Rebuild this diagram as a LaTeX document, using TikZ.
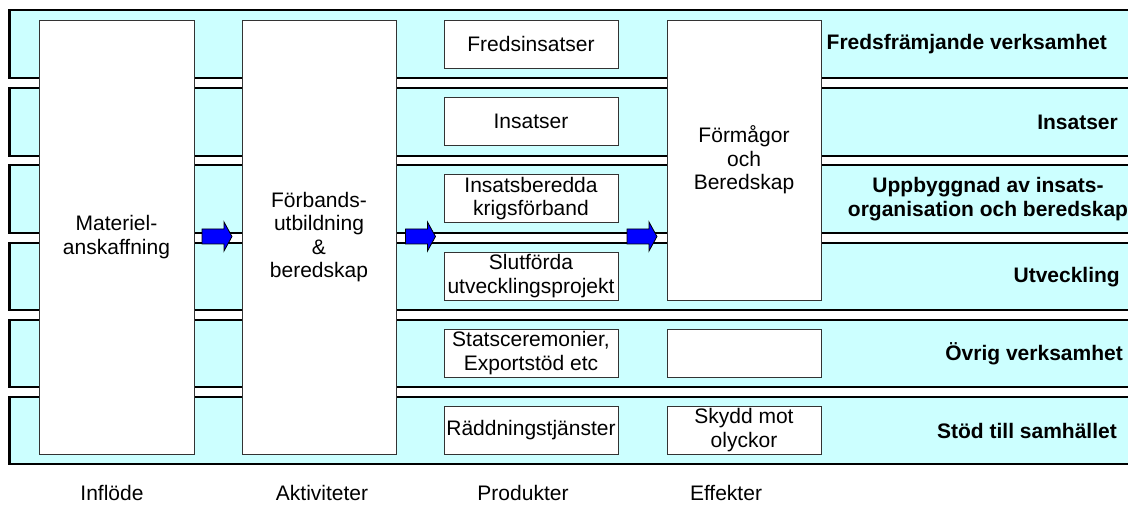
\documentclass[tikz,border=0pt]{standalone}
\usepackage{fontspec}
\setmainfont{Liberation Sans}
\definecolor{bandcyan}{RGB}{204,255,255}
\definecolor{arrowblue}{RGB}{0,0,255}
\begin{document}
\begin{tikzpicture}[x=1pt,y=-1pt,
  band/.style={draw=black,line width=2.5pt,fill=bandcyan},
  box/.style={draw=black!80,line width=0.9pt,fill=white,inner sep=0pt,align=center,
    font=\fontsize{21}{23.5}\selectfont},
  prod/.style={box,minimum width=174pt,minimum height=48pt},
  eff/.style={box,minimum width=154pt,minimum height=48pt},
  lbl/.style={font=\fontsize{21}{23.5}\selectfont\bfseries,inner sep=0pt,align=center},
  caption/.style={font=\fontsize{21}{23.5}\selectfont,inner sep=0pt},
  blockarrow/.style={draw=black,line width=0.8pt,fill=arrowblue,line join=miter}
]
\useasboundingbox (0,0) rectangle (1128,505);
\clip (0,0) rectangle (1128,505);
% bands
\foreach \t/\b in {10/78,88/156,165/233,243/310,320/387,397/464}{
  \draw[band] (9.5,\t) rectangle (1145,\b);
}
% big boxes
\node[box,minimum width=155pt,minimum height=434pt] (mat) at (116.5,237) {Materiel-\\anskaffning};
\node[box,minimum width=154pt,minimum height=434pt] (forb) at (319,237) {Förbands-\\utbildning\\\&\\beredskap};
\node[box,minimum width=154pt,minimum height=280pt] (form) at (744,160) {Förmågor\\och\\Beredskap};
% products
\node[prod] (fred) at (531,44) {Fredsinsatser};
\node[prod] (ins) at (531,121) {Insatser};
\node[prod] (krig) at (531,198.5) {Insatsberedda\\krigsförband};
\node[prod] (slut) at (531,276) {Slutförda\\utvecklingsprojekt};
\node[prod] (stat) at (531,353) {Statsceremonier,\\Exportstöd etc};
\node[prod] (radd) at (531,430) {Räddningstjänster};
% effects
\node[eff] (blank) at (744,353) {};
\node[eff] (skydd) at (744,430) {Skydd mot\\olyckor};
% arrows (block arrows between named nodes)
\coordinate (ay) at (0,236.5);
\path (mat.east |- ay) -- (forb.west |- ay) coordinate[pos=0.5,xshift=-1pt] (m1);
\path (forb.east |- ay) -- (krig.west |- ay) coordinate[pos=0.5,xshift=0.5pt] (m2);
\path (krig.east |- ay) -- (form.west |- ay) coordinate[pos=0.5,xshift=-0.5pt] (m3);
\foreach \m in {m1,m2,m3}{
  \draw[blockarrow,shift={(\m)}] (-15,-7.5) -- (7,-7.5) -- (7,-14.5) -- (15,0)
     -- (7,14.5) -- (7,7.5) -- (-15,7.5) -- cycle;
}
% right labels
\node[lbl,anchor=east] (l1) at (1107,44) {Fredsfrämjande verksamhet};
\node[lbl,anchor=east] (l2) at (1118,122) {Insatser};
\node[lbl] (l3) at (988,199) {Uppbyggnad av insats-\\organisation och beredskap};
\node[lbl,anchor=east] (l4) at (1120,277) {Utveckling};
\node[lbl,anchor=east] (l5) at (1123,353.5) {Övrig verksamhet};
\node[lbl,anchor=east] (l6) at (1117,430.5) {Stöd till samhället};
% bottom captions
\node[caption] (c1) at (112,493) {Inflöde};
\node[caption] (c2) at (322,493) {Aktiviteter};
\node[caption] (c3) at (523,493) {Produkter};
\node[caption] (c4) at (726,493) {Effekter};
\end{tikzpicture}
\end{document}
